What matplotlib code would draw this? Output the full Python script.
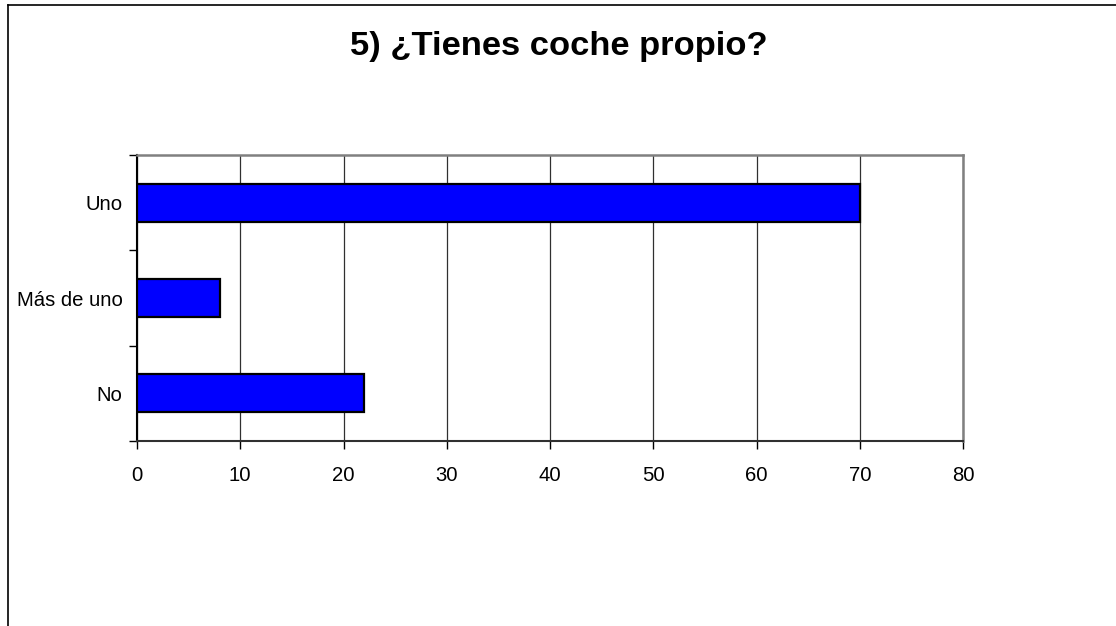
import matplotlib
matplotlib.use("Agg")
import matplotlib.pyplot as plt
from matplotlib.lines import Line2D
import numpy as np

categories = ["No", "Más de uno", "Uno"]
values = [22, 8, 70]
x_ticks = [0, 10, 20, 30, 40, 50, 60, 70, 80]
title = "5) ¿Tienes coche propio?"

plt.rcParams['font.family'] = ['Liberation Sans', 'DejaVu Sans']

fig = plt.figure(figsize=(11.16, 6.26), dpi=100)
ax = fig.add_axes([137/1116, 1-441/626, (963-137)/1116, (441-155)/626])

pos = np.arange(len(categories))
ax.barh(pos, values, height=0.4, color="#0000FF", edgecolor="black", linewidth=1.6, zorder=3)

ax.set_xlim(0, 80)
ax.set_ylim(-0.5, len(categories) - 0.5)
ax.set_xticks(x_ticks)
ax.set_xticklabels([str(v) for v in x_ticks])
ax.grid(axis="x", color="#303030", linewidth=0.9, zorder=1)

# category boundaries as major ticks, labels on minor ticks
ax.set_yticks(np.arange(-0.5, len(categories), 1.0))
ax.set_yticklabels([])
ax.set_yticks(pos, minor=True)
ax.set_yticklabels(categories, minor=True)
ax.tick_params(axis="y", which="major", length=6, width=1, color="black")
ax.tick_params(axis="y", which="minor", length=0, pad=10.5, labelsize=14.6)
ax.tick_params(axis="x", which="major", length=6, width=1, color="black", pad=12, labelsize=14.6)

for s in ["top", "right"]:
    ax.spines[s].set_color("#808080")
    ax.spines[s].set_linewidth(1.8)
ax.spines["left"].set_color("black")
ax.spines["left"].set_linewidth(1.5)
ax.spines["bottom"].set_color("#303030")
ax.spines["bottom"].set_linewidth(1.5)

fig.text(559/1116, 1-46/626, title, ha="center", va="center",
         fontsize=24.8, fontweight="bold")

# outer frame (left and top edges)
fig.add_artist(Line2D([8/1116, 8/1116], [0, 1-4.5/626], color="black", linewidth=1.2, transform=fig.transFigure))
fig.add_artist(Line2D([8/1116, 1], [1-4.5/626, 1-4.5/626], color="black", linewidth=1.2, transform=fig.transFigure))

fig.savefig("out.png", dpi=100, facecolor="white")
